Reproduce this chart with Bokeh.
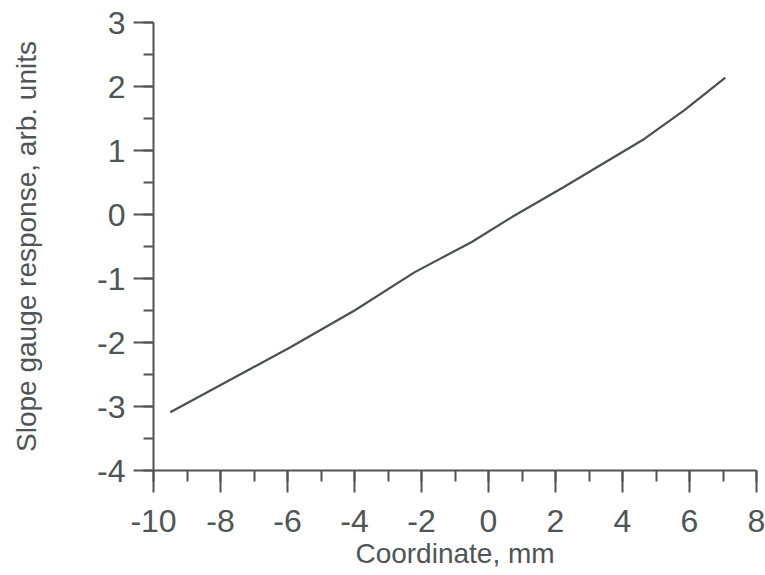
from bokeh.plotting import figure
from bokeh.models import SingleIntervalTicker, Range1d, CustomJSTickFormatter
from bokeh.embed import file_html
from bokeh.resources import INLINE

# Data
coordinate_mm = [-9.5, -7.1, -5.9, -4.0, -2.2, -0.5, 0.7, 2.25, 4.65, 5.85, 7.07]
response = [-3.09, -2.41, -2.07, -1.50, -0.90, -0.43, -0.04, 0.43, 1.18, 1.63, 2.14]

x_title = "Coordinate, mm"
y_title = "Slope gauge response, arb. units"

FONT = "Liberation Sans"
INK = "#4f5555"

p = figure(width=765, height=575, output_backend="svg", toolbar_location=None,
           x_range=Range1d(-10, 8), y_range=Range1d(-4, 3),
           min_border_left=153, min_border_right=9, min_border_top=22, min_border_bottom=105)
p.frame_width = 603
p.frame_height = 448
p.outline_line_color = None
p.grid.grid_line_color = None
p.background_fill_color = "white"
p.border_fill_color = "white"

p.line(coordinate_mm, response, line_color="#4a5050", line_width=2.2)

p.xaxis.ticker = SingleIntervalTicker(interval=2, num_minor_ticks=2)
p.yaxis.ticker = SingleIntervalTicker(interval=1, num_minor_ticks=2)
hyphen_fmt = CustomJSTickFormatter(code="return String(Math.round(tick));")
p.xaxis.formatter = hyphen_fmt
p.yaxis.formatter = hyphen_fmt

for ax in (p.xaxis[0], p.yaxis[0]):
    ax.axis_line_color = INK
    ax.axis_line_width = 2
    ax.major_tick_line_color = INK
    ax.major_tick_line_width = 2
    ax.minor_tick_line_color = INK
    ax.minor_tick_line_width = 2
    ax.major_tick_in = 0
    ax.minor_tick_in = 0
    ax.major_label_text_font = FONT
    ax.major_label_text_font_size = "32px"
    ax.major_label_text_color = INK
    ax.axis_label_text_font = FONT
    ax.axis_label_text_font_size = "28px"
    ax.axis_label_text_color = INK
    ax.axis_label_text_font_style = "normal"

p.xaxis.major_tick_out = 22
p.xaxis.minor_tick_out = 11
p.yaxis.major_tick_out = 20
p.yaxis.minor_tick_out = 10
p.xaxis.major_label_standoff = 17
p.yaxis.major_label_standoff = 8
p.xaxis.axis_label = x_title
p.yaxis.axis_label = y_title
p.xaxis.axis_label_standoff = 3
p.yaxis.axis_label_standoff = 52

open("out.html", "w").write(file_html(p, INLINE))
